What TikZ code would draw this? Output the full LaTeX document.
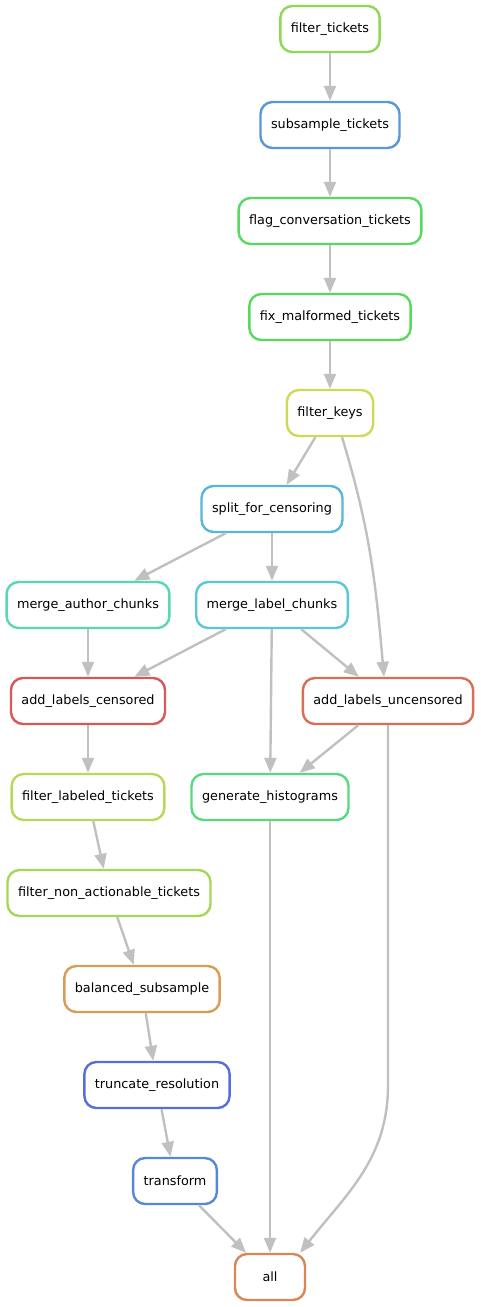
\documentclass[tikz,border=0pt]{standalone}
\usepackage{fontspec}
\setmainfont{DejaVu Sans}
\usetikzlibrary{arrows.meta}

\definecolor{dagGray}{RGB}{192,192,192}
\definecolor{cFilterTickets}{RGB}{141,217,87}
\definecolor{cSubsample}{RGB}{87,152,217}
\definecolor{cFlagConv}{RGB}{87,217,98}
\definecolor{cFixMalformed}{RGB}{87,217,91}
\definecolor{cFilterKeys}{RGB}{206,217,87}
\definecolor{cSplit}{RGB}{87,182,217}
\definecolor{cMergeAuthor}{RGB}{87,217,174}
\definecolor{cMergeLabel}{RGB}{87,200,217}
\definecolor{cCensored}{RGB}{217,87,87}
\definecolor{cUncensored}{RGB}{217,109,87}
\definecolor{cFilterLabeled}{RGB}{184,217,87}
\definecolor{cHistograms}{RGB}{87,217,126}
\definecolor{cNonActionable}{RGB}{163,217,87}
\definecolor{cBalanced}{RGB}{217,156,87}
\definecolor{cTruncate}{RGB}{87,109,217}
\definecolor{cTransform}{RGB}{87,135,217}
\definecolor{cAll}{RGB}{217,135,87}

\begin{document}
\begin{tikzpicture}[
    x=1pt, y=1pt,
    dagRule/.style={draw=#1, line width=2.4pt, rounded corners=12pt,
        minimum width=70pt, minimum height=46pt, inner xsep=10.5pt,
        font=\fontsize{12.8}{15}\selectfont},
    dagEdge/.style={draw=dagGray, line width=2.4pt},
    >={Triangle[length=15pt,width=12pt]}
]
    \useasboundingbox (0,0) rectangle (480,-1307);

    % 主干
    \node[dagRule=cFilterTickets] (filterTickets) at (330,-29) {filter\_tickets};
    \node[dagRule=cSubsample] (subsampleTickets) at (330,-125) {subsample\_tickets};
    \node[dagRule=cFlagConv] (flagConv) at (330,-221) {flag\_conversation\_tickets};
    \node[dagRule=cFixMalformed] (fixMalformed) at (330,-317) {fix\_malformed\_tickets};
    \node[dagRule=cFilterKeys] (filterKeys) at (330,-413) {filter\_keys};
    \node[dagRule=cSplit] (splitCensoring) at (272,-509) {split\_for\_censoring};

    % 分块与标注
    \node[dagRule=cMergeAuthor] (mergeAuthor) at (88,-605) {merge\_author\_chunks};
    \node[dagRule=cMergeLabel] (mergeLabel) at (272,-605) {merge\_label\_chunks};
    \node[dagRule=cCensored] (labelsCensored) at (88,-701) {add\_labels\_censored};
    \node[dagRule=cUncensored] (labelsUncensored) at (388,-701) {add\_labels\_uncensored};
    \node[dagRule=cHistograms] (histograms) at (270,-797) {generate\_histograms};

    % 左侧处理链
    \node[dagRule=cFilterLabeled] (filterLabeled) at (88,-797) {filter\_labeled\_tickets};
    \node[dagRule=cNonActionable] (nonActionable) at (109,-893) {filter\_non\_actionable\_tickets};
    \node[dagRule=cBalanced] (balanced) at (142,-989) {balanced\_subsample};
    \node[dagRule=cTruncate] (truncateRes) at (157,-1085) {truncate\_resolution};
    \node[dagRule=cTransform] (transform) at (175,-1181) {transform};
    \node[dagRule=cAll] (all) at (270,-1277) {all};

    % 连线
    \draw[dagEdge, ->] (filterTickets) -- (subsampleTickets);
    \draw[dagEdge, ->] (subsampleTickets) -- (flagConv);
    \draw[dagEdge, ->] (flagConv) -- (fixMalformed);
    \draw[dagEdge, ->] (fixMalformed) -- (filterKeys);
    \draw[dagEdge, ->] (filterKeys) -- (splitCensoring);
    \draw[dagEdge, ->] ([xshift=12pt]filterKeys.south)
        to[out=-73, in=95] ([xshift=-4pt]labelsUncensored.north);
    \draw[dagEdge, ->] (splitCensoring) -- (mergeAuthor);
    \draw[dagEdge, ->] (splitCensoring) -- (mergeLabel);
    \draw[dagEdge, ->] (mergeAuthor) -- (labelsCensored);
    \draw[dagEdge, ->] (mergeLabel) -- (labelsCensored);
    \draw[dagEdge, ->] (mergeLabel) -- (labelsUncensored);
    \draw[dagEdge, ->] (mergeLabel) -- (histograms);
    \draw[dagEdge, ->] (labelsUncensored) -- (histograms);
    \draw[dagEdge, ->] (labelsCensored) -- (filterLabeled);
    \draw[dagEdge, ->] (filterLabeled) -- (nonActionable);
    \draw[dagEdge, ->] (nonActionable) -- (balanced);
    \draw[dagEdge, ->] (balanced) -- (truncateRes);
    \draw[dagEdge, ->] (truncateRes) -- (transform);
    \draw[dagEdge, ->] (transform) -- (all);
    \draw[dagEdge, ->] (histograms) -- (all);
    \draw[dagEdge, ->] (labelsUncensored.south) -- ++(0,-360)
        to[out=-90, in=52] ([xshift=-6pt]all.north east);
\end{tikzpicture}
\end{document}
